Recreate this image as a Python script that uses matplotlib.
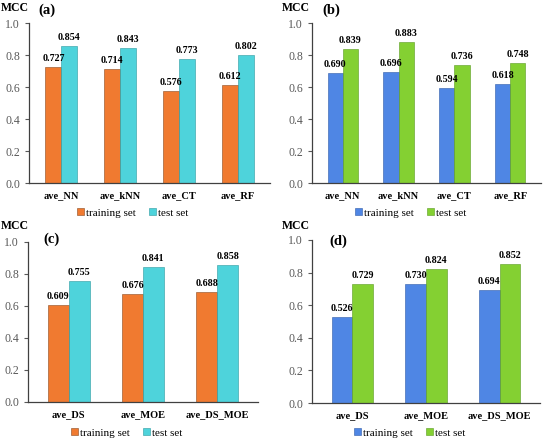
import matplotlib
matplotlib.use("Agg")
import matplotlib.pyplot as plt
import numpy as np

# data
cats_top = ["ave_NN", "ave_kNN", "ave_CT", "ave_RF"]
cats_bot = ["ave_DS", "ave_MOE", "ave_DS_MOE"]
a_train = [0.727, 0.714, 0.576, 0.612]
a_test = [0.854, 0.843, 0.773, 0.802]
b_train = [0.690, 0.696, 0.594, 0.618]
b_test = [0.839, 0.883, 0.736, 0.748]
c_train = [0.609, 0.676, 0.688]
c_test = [0.755, 0.841, 0.858]
d_train = [0.526, 0.730, 0.694]
d_test = [0.729, 0.824, 0.852]

ORANGE = "#F07A30"
CYAN = "#4ED3DB"
BLUE = "#4F86E4"
GREEN = "#84D032"

plt.rcParams["font.family"] = "Liberation Serif"

W, H = 543, 442
fig = plt.figure(figsize=(W / 100, H / 100), dpi=100)


def px_axes(x0, x1, ytop, ybot):
    return fig.add_axes([x0 / W, 1 - ybot / H, (x1 - x0) / W, (ybot - ytop) / H])


def px_text(x, y, s, **kw):
    fig.text(x / W, 1 - y / H, s, **kw)


# label, cats, train, test, colours, axes box (px), bar width, MCC pos, letter pos, legend y
PANELS = [
    ("(a)", cats_top, a_train, a_test, ORANGE, CYAN, (29, 270, 23, 183), 0.27, (1, 8), (38, 10), 213),
    ("(b)", cats_top, b_train, b_test, BLUE, GREEN, (312, 541, 23, 183), 0.27, (282, 8), (322, 10), 213),
    ("(c)", cats_bot, c_train, c_test, ORANGE, CYAN, (28, 258, 242, 402), 0.28, (1, 226), (43, 239), 433),
    ("(d)", cats_bot, d_train, d_test, BLUE, GREEN, (312, 540, 240, 403), 0.28, (282, 226), (329, 241), 433),
]

for label, cats, tr, te, c1, c2, box, w, mcc, let, leg_y in PANELS:
    ax = px_axes(*box)
    x = np.arange(len(cats))
    b1 = ax.bar(x - w / 2, tr, w, color=c1, edgecolor="#8a4a20" if c1 == ORANGE else "#2f5aa8",
                linewidth=0.4, label="training set")
    b2 = ax.bar(x + w / 2, te, w, color=c2, edgecolor="#2a9aa0" if c2 == CYAN else "#5a9a20",
                linewidth=0.4, label="test set")
    for bars, vals in ((b1, tr), (b2, te)):
        for r, v in zip(bars, vals):
            ax.text(r.get_x() + r.get_width() / 2, v + 0.025, f"{v:.3f}", ha="center", va="bottom",
                    fontsize=7.2, fontweight="bold")
    ax.set_ylim(0, 1.0)
    ax.set_xlim(-0.55, len(cats) - 0.45)
    ax.set_yticks(np.arange(0, 1.01, 0.2))
    ax.set_yticklabels([f"{t:.1f}" for t in np.arange(0, 1.01, 0.2)])
    ax.set_xticks(x)
    ax.set_xticklabels(cats, fontsize=7.5, fontweight="bold")
    ax.tick_params(axis="y", labelsize=8.5, labelcolor="#595959", length=3, color="#595959", width=0.8)
    ax.tick_params(axis="x", length=0, pad=6)
    for s in ("top", "right"):
        ax.spines[s].set_visible(False)
    for s in ("left", "bottom"):
        ax.spines[s].set_color("#404040")
        ax.spines[s].set_linewidth(0.9)
    px_text(mcc[0], mcc[1], "MCC", fontsize=8.5, fontweight="bold", ha="left", va="center")
    px_text(let[0], let[1], label, fontsize=10.5, fontweight="bold", ha="left", va="center")
    x0, x1, ytop, ybot = box
    ax.legend(loc="center", bbox_to_anchor=(0.43, -(leg_y - ybot) / (ybot - ytop)), ncol=2,
              frameon=False, fontsize=8, handlelength=0.6, handleheight=0.6, handletextpad=0.2,
              columnspacing=1.2, borderpad=0)

fig.savefig("out.png", dpi=100)
